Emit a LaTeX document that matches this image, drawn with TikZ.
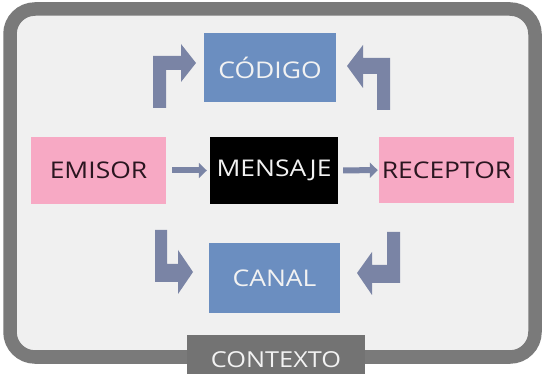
\documentclass[tikz,border=0pt]{standalone}
\usepackage{fontspec}
\setmainfont{Open Sans}[FakeStretch=1.15]
\usetikzlibrary{arrows.meta}
\definecolor{bgc}{HTML}{F0F0F0}
\definecolor{framec}{HTML}{7A7A7A}
\definecolor{ctxc}{HTML}{737373}
\definecolor{bluec}{HTML}{6B8EC0}
\definecolor{pinkc}{HTML}{F7A9C4}
\definecolor{arrc}{HTML}{7A84A5}
\definecolor{darktext}{HTML}{2A1620}
\definecolor{lighttext}{HTML}{F2F2F2}
\tikzset{
  box/.style={inner sep=0pt, font=\fontsize{23}{26}\selectfont},
  bluebox/.style={box, fill=bluec, text=lighttext},
  pinkbox/.style={box, fill=pinkc, text=darktext},
  blackbox/.style={box, fill=black, text=lighttext},
  ctxbox/.style={box, fill=ctxc, text=lighttext, font=\fontsize{22}{26}\selectfont},
  smallarrow/.style={draw=arrc, line width=6pt, -{Triangle[length=8pt,width=15pt]}},
  bentarrow/.style={fill=arrc},
}
\begin{document}
\begin{tikzpicture}[x=1pt,y=-1pt]
\clip (0,0) rectangle (544,374);
\fill[white] (0,0) rectangle (544,374);
% frame
\draw[framec, fill=bgc, line width=13.5pt, rounded corners=25pt] (10,9) rectangle (535,357);
% nodes
\node[bluebox, minimum width=132pt, minimum height=69pt] (cod) at (270,67.5) {CÓDIGO};
\node[pinkbox, minimum width=135pt, minimum height=67pt] (emi) at (98.5,170.5) {EMISOR};
\node[blackbox, minimum width=128pt, minimum height=67pt] (men) at (274,170.5) {MENSAJE};
\node[pinkbox, minimum width=135pt, minimum height=66pt] (rec) at (446.5,170) {RECEPTOR};
\node[bluebox, minimum width=131pt, minimum height=70pt] (can) at (274.5,278) {CANAL};
\node[ctxbox, minimum width=178pt, minimum height=49pt] (ctx) at (276,359.5) {CONTEXTO};
% straight arrows
\draw[smallarrow, shorten <=6pt, shorten >=3pt] (emi) -- (men);
\draw[smallarrow, shorten <=5pt, shorten >=1pt] (men) -- (rec);
% bent arrows
\fill[bentarrow] (153,108) -- (153,56) -- (181,56) -- (181,44) -- (196,63) -- (181,82) -- (181,70) -- (166,70) -- (166,108) -- cycle;
\fill[bentarrow] (390,110) -- (390,58) -- (363,58) -- (363,45) -- (347,66) -- (363,88) -- (363,74) -- (377,74) -- (377,110) -- cycle;
\fill[bentarrow] (155,230) -- (155,282) -- (178,282) -- (178,294) -- (193,272) -- (178,250) -- (178,264) -- (167,264) -- (167,230) -- cycle;
\fill[bentarrow] (400,232) -- (400,283) -- (372,283) -- (372,295) -- (357,273) -- (372,252) -- (372,265) -- (387,265) -- (387,232) -- cycle;
\end{tikzpicture}
\end{document}
